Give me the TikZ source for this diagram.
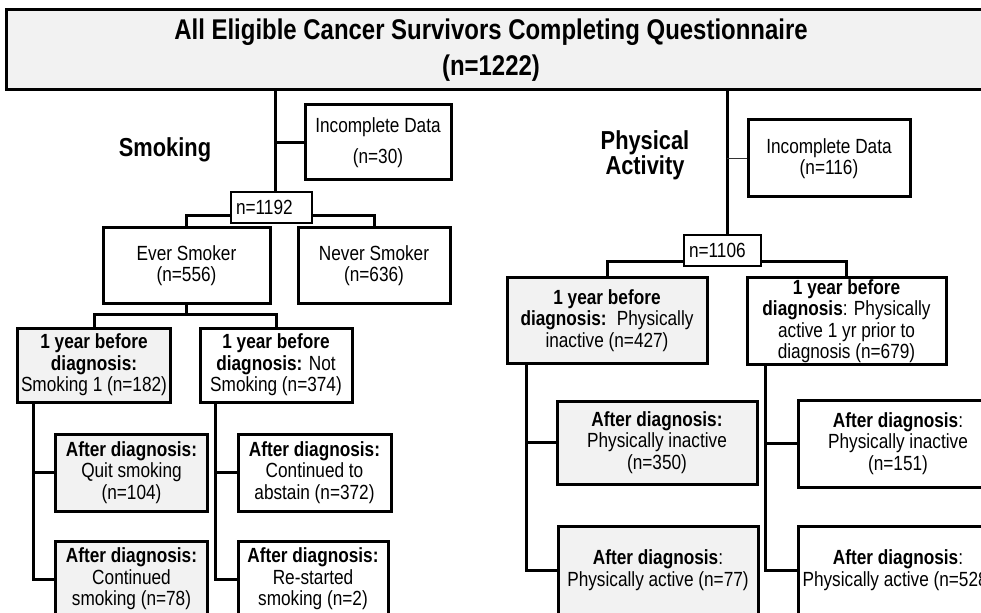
\documentclass[tikz,border=0pt]{standalone}
\usepackage{fontspec}
\setmainfont{Liberation Sans}[FakeStretch=0.84]
\usetikzlibrary{calc}
\definecolor{boxgray}{HTML}{F2F2F2}
\newcommand{\bdfont}{\fontsize{20.5bp}{21.5bp}\selectfont}
\newcommand{\hdfont}{\fontsize{26bp}{26bp}\selectfont\bfseries}
\newcommand{\ttlfont}{\fontsize{28.5bp}{36bp}\selectfont\bfseries}
\begin{document}
\begin{tikzpicture}[x=1bp,y=-1bp,
  bx/.style 2 args={draw=black, line width=3bp, minimum width=#1, minimum height=#2, inner sep=0pt, align=center, font=\bdfont},
  gbx/.style 2 args={bx={#1}{#2}, fill=boxgray},
  wbx/.style 2 args={bx={#1}{#2}, fill=white},
  nbx/.style 2 args={bx={#1}{#2}, fill=white, line width=2bp, text width=#1-10bp, inner xsep=5bp, align=left},
  conn/.style={draw=black, line width=3bp, line join=miter},
  lightconn/.style={draw=black!80, line width=1.2bp},
  heading/.style={font=\hdfont, anchor=base, inner sep=0pt},
]
\useasboundingbox (0,0) rectangle (981,613);
\clip (0,0) rectangle (981,613);

% top box
\node[draw=black, line width=3.4bp, fill=boxgray, minimum width=1000bp, minimum height=80bp, anchor=north west, inner sep=0pt] (topbox) at (5,8) {};
\node[font=\ttlfont, align=center, inner sep=0pt] (title) at (491,50) {All Eligible Cancer Survivors Completing Questionnaire\\(n=1222)};

% ---------------- Smoking ----------------
\node[heading] (smk) at (165,157) {Smoking};
\node[wbx={146bp}{75bp}] (inc1) at (378,142.5) {Incomplete Data\\[10bp](n=30)};
\node[nbx={81bp}{31bp}] (n1192) at (271.5,207.5) {n=1192};
\node[wbx={167bp}{75bp}] (ever) at (186.5,265.5) {Ever Smoker\\(n=556)};
\node[wbx={152bp}{75bp}] (never) at (374,265.5) {Never Smoker\\(n=636)};
\node[gbx={152bp}{74bp}] (s1) at (94,365) {\textbf{1 year before}\\\textbf{diagnosis:}\\Smoking 1 (n=182)};
\node[wbx={152bp}{74bp}] (s2) at (276,365) {\textbf{1 year before}\\\textbf{diagnosis:} Not\\Smoking (n=374)};
\node[gbx={151bp}{77bp}] (s1a) at (131.5,472.5) {\textbf{After diagnosis:}\\Quit smoking\\(n=104)};
\node[gbx={151bp}{76bp}] (s1b) at (131.5,579) {\textbf{After diagnosis:}\\Continued\\smoking (n=78)};
\node[wbx={153bp}{77bp}] (s2a) at (314.5,472.5) {\textbf{After diagnosis:}\\Continued to\\abstain (n=372)};
\node[wbx={150bp}{76bp}] (s2b) at (313,579) {\textbf{After diagnosis:}\\Re-started\\smoking (n=2)};

\coordinate (st) at ([xshift=3.5bp]n1192.north);
\draw[conn] (st) -- (st |- topbox.south);
\draw[conn] (inc1.west) -- (inc1.west -| st);
\coordinate (sbl) at ([yshift=8bp]n1192.south west);
\coordinate (sbr) at ([yshift=8bp]n1192.south east);
\draw[conn] (sbl) -| (ever.north);
\draw[conn] (sbr) -| (never.north);
\coordinate (ej) at ($(ever.south)+(0,10)$);
\draw[conn] (ever.south) -- (ej);
\draw[conn] (s1.north) |- (ej) -| (s2.north);
\coordinate (s1x) at ([xshift=17bp]s1.south west);
\draw[conn] (s1x) |- (s1b.west);
\draw[conn] (s1a.west) -- (s1a.west -| s1x);
\coordinate (s2x) at ([xshift=17bp]s2.south west);
\draw[conn] (s2x) |- (s2b.west);
\draw[conn] (s2a.west) -- (s2a.west -| s2x);

% ---------------- Physical activity ----------------
\node[heading] (pa1) at (645,150) {Physical};
\node[heading] (pa2) at (645,175) {Activity};
\node[wbx={162bp}{77bp}] (inc2) at (829,158.5) {Incomplete Data\\(n=116)};
\node[nbx={77bp}{31bp}] (n1106) at (722.5,250.5) {n=1106};
\node[gbx={200bp}{85bp}] (p1) at (607,320.5) {\textbf{1 year before}\\\textbf{diagnosis:}\enspace Physically\\inactive (n=427)};
\node[wbx={199bp}{86bp}] (p2) at (846.5,321) {\textbf{1 year before}\\\textbf{diagnosis}: Physically\\active 1 yr prior to\\diagnosis (n=679)};
\node[gbx={200bp}{83bp}] (p1a) at (657,442.5) {\textbf{After diagnosis:}\\Physically inactive\\(n=350)};
\node[gbx={200bp}{88bp}] (p1b) at (658,570) {\textbf{After diagnosis}:\\Physically active (n=77)};
\node[wbx={200bp}{87bp}] (p2a) at (898,443.5) {\textbf{After diagnosis}:\\Physically inactive\\(n=151)};
\node[wbx={200bp}{88bp}] (p2b) at (898,570) {\textbf{After diagnosis}:\\Physically active (n=528)};

\coordinate (pt) at ([xshift=4.5bp]n1106.north);
\draw[conn] (pt) -- (pt |- topbox.south);
\draw[lightconn] (inc2.west) -- (inc2.west -| pt);
\coordinate (pbl) at ([yshift=6bp]n1106.south west);
\coordinate (pbr) at ([yshift=6bp]n1106.south east);
\draw[conn] (pbl) -| (p1.north);
\draw[conn] (pbr) -| (p2.north);
\coordinate (p1x) at ([xshift=21bp]p1.south west);
\draw[conn] (p1x) |- (p1b.west);
\draw[conn] (p1a.west) -- (p1a.west -| p1x);
\coordinate (p2x) at ([xshift=20bp]p2.south west);
\draw[conn] (p2x) |- (p2b.west);
\draw[conn] (p2a.west) -- (p2a.west -| p2x);
\end{tikzpicture}
\end{document}
